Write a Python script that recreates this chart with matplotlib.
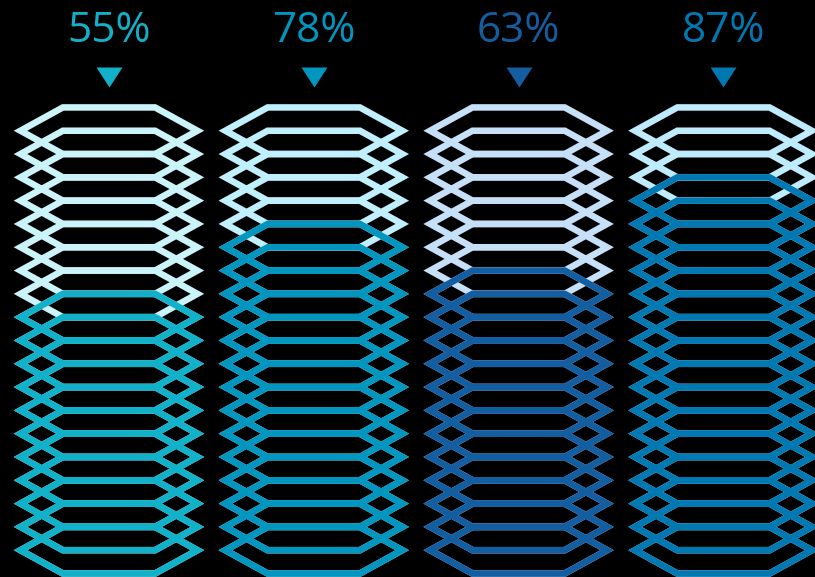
import matplotlib.pyplot as plt
from matplotlib.patches import Polygon
from matplotlib.transforms import blended_transform_factory

# values
labels = ['55%', '78%', '63%', '87%']
filled = [11, 14, 12, 16]      # coloured hexagons in each column
total = 19                     # hexagons in the light background stack
dark_colors = ['#10B1C9', '#0096BF', '#125EA0', '#0079B3']
light_colors = ['#CBF4FA', '#C0F0FD', '#C6E0F8', '#BFECFD']

# hexagon shape, in column widths / stack steps
HALF_W = 0.432
FLAT_W = 0.225
LW = 4.7


def hexagon(xc, yc):
    return [(xc - HALF_W, yc), (xc - FLAT_W, yc + 1), (xc + FLAT_W, yc + 1),
            (xc + HALF_W, yc), (xc + FLAT_W, yc - 1), (xc - FLAT_W, yc - 1)]


def main():
    fig = plt.figure(figsize=(8.15, 5.77), dpi=100, facecolor='black')
    ax = fig.add_axes([0, 0, 1, 1])
    ax.set_facecolor('black')
    ax.set_xlim(-0.532, 3.447)
    ax.set_ylim(-0.15, 24.61)
    ax.axis('off')

    for i in range(len(labels)):
        # light background stack
        for k in range(total):
            ax.add_patch(Polygon(hexagon(i, k + 1), closed=True, fill=False,
                                 edgecolor=light_colors[i], lw=LW,
                                 joinstyle='miter', zorder=2))
        # coloured stack on top
        for k in range(filled[i]):
            ax.add_patch(Polygon(hexagon(i, k + 1), closed=True, fill=False,
                                 edgecolor=dark_colors[i], lw=LW,
                                 joinstyle='miter', zorder=3))

    trans = blended_transform_factory(ax.transData, ax.transAxes)
    for i, lab in enumerate(labels):
        ax.text(i, 0.928, lab, transform=trans, ha='center', va='baseline',
                fontsize=30.5, color=dark_colors[i], family='Open Sans')
        ax.plot([i], [0.8666], transform=trans, linestyle='none',
                marker=[(-13, 10), (13, 10), (0, -10)], markersize=18.7,
                color=dark_colors[i], markeredgewidth=0, clip_on=False)

    fig.savefig('out.png', dpi=100, facecolor='black')


main()
